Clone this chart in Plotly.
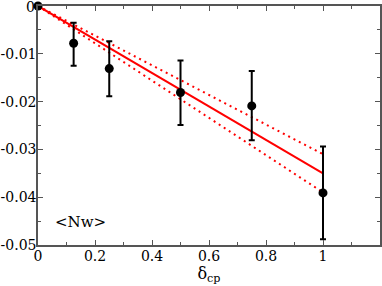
import plotly.graph_objects as go

x_vals = [0.0, 0.125, 0.25, 0.5, 0.75, 1.0]
y_vals = [0.0, -0.0078, -0.0131, -0.0181, -0.0209, -0.0391]
err_plus = [0.0, 0.0043, 0.0057, 0.0067, 0.0073, 0.0097]
err_minus = [0.0, 0.0047, 0.0058, 0.0068, 0.0072, 0.0097]

fit_x = [0.0, 1.0]
fit_y = [0.0, -0.0350]
fit_upper = [0.0, -0.0310]
fit_lower = [0.0, -0.0390]

y_ticks = [0, -0.01, -0.02, -0.03, -0.04, -0.05]
y_ticktext = ["0", "-0.01", "-0.02", "-0.03", "-0.04", "-0.05"]
x_ticks = [0, 0.2, 0.4, 0.6, 0.8, 1]
x_ticktext = ["0", "0.2", "0.4", "0.6", "0.8", "1"]

fig = go.Figure()
fig.add_trace(go.Scatter(x=fit_x, y=fit_y, mode="lines",
                         line=dict(color="red", width=2), showlegend=False, cliponaxis=False))
fig.add_trace(go.Scatter(x=fit_x, y=fit_upper, mode="lines",
                         line=dict(color="red", width=2, dash="2px,4px"), showlegend=False))
fig.add_trace(go.Scatter(x=fit_x, y=fit_lower, mode="lines",
                         line=dict(color="red", width=2, dash="2px,4px"), showlegend=False))
fig.add_trace(go.Scatter(x=x_vals, y=y_vals, mode="markers",
                         marker=dict(color="black", size=9), cliponaxis=False,
                         error_y=dict(type="data", symmetric=False, array=err_plus,
                                      arrayminus=err_minus, color="black",
                                      thickness=2, width=3),
                         showlegend=False))

FAM = "DejaVu Serif"
font = dict(family=FAM, size=14, color="black")
axcommon = dict(showgrid=False, zeroline=False, showline=True, linecolor="#555",
                linewidth=1.5, mirror="allticks", ticks="inside", ticklen=5,
                tickcolor="#555", tickfont=font, automargin=False)
fig.update_layout(
    width=382, height=286,
    margin=dict(l=38, r=2, t=6, b=41),
    plot_bgcolor="white", paper_bgcolor="white",
    font=dict(family=FAM),
    xaxis=dict(range=[0, 1.2], tickvals=x_ticks, ticktext=x_ticktext,
               minor=dict(dtick=0.1, ticks="inside", ticklen=3, tickcolor="#555"),
               title=dict(text="δ<sub>cp</sub>", font=dict(family=FAM, size=16, color="black"),
                          standoff=0),
               ticklabelstandoff=-3,
               **axcommon),
    yaxis=dict(range=[-0.05, 0], tickvals=y_ticks[1:], ticktext=y_ticktext[1:],
               minor=dict(dtick=0.005, ticks="inside", ticklen=3, tickcolor="#555"),
               ticklabelstandoff=-3,
               **axcommon),
    annotations=[
        dict(x=0.15, y=-0.0452, xref="x", yref="y", text="&lt;Nw&gt;",
             showarrow=False, font=dict(family=FAM, size=15, color="black")),
        dict(x=0, y=y_ticks[0], xref="paper", yref="y", text=y_ticktext[0],
             xanchor="right", yanchor="middle", xshift=-1, yshift=-1, showarrow=False,
             font=dict(family=FAM, size=14, color="black")),
    ],
)
fig.write_html("out.html", config={"displayModeBar": False},
               post_script="document.body.style.margin='0';document.body.style.padding='0';")
